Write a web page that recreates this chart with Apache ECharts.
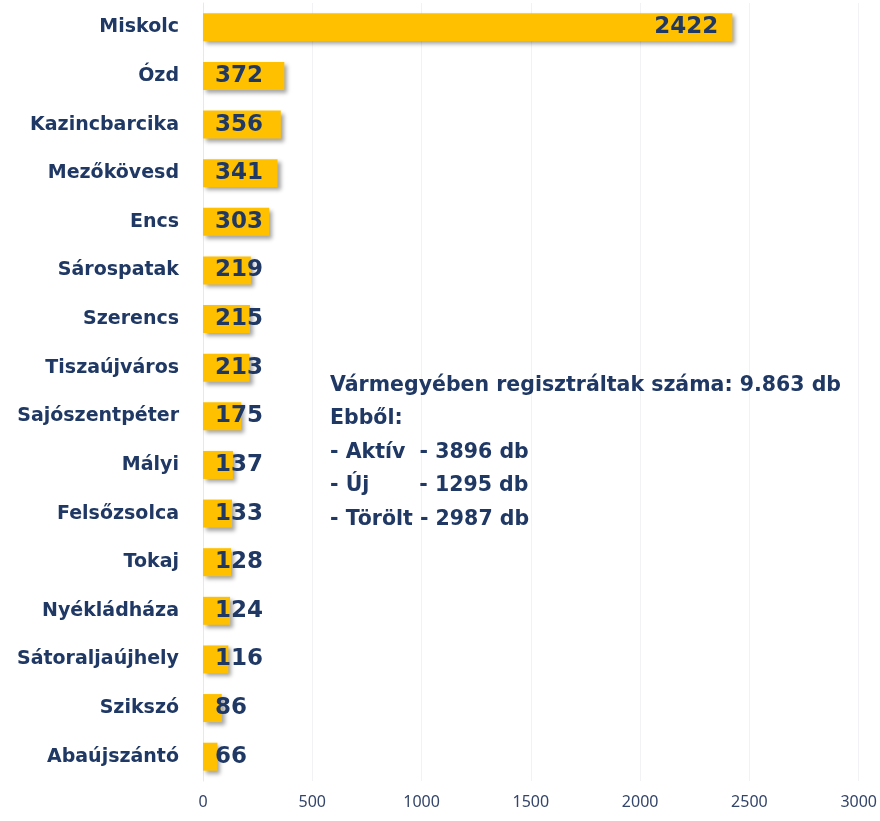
<!DOCTYPE html>
<html>
<head>
<meta charset="utf-8">
<script src="https://cdn.jsdelivr.net/npm/echarts@6/dist/echarts.min.js"></script>
<style>
  html, body { margin: 0; padding: 0; background: #fff; }
  #chart { width: 880px; height: 821px; }
</style>
</head>
<body>
<div id="chart"></div>
<script>
const cities = ["Miskolc", "Ózd", "Kazincbarcika", "Mezőkövesd", "Encs", "Sárospatak", "Szerencs",
  "Tiszaújváros", "Sajószentpéter", "Mályi", "Felsőzsolca", "Tokaj", "Nyékládháza",
  "Sátoraljaújhely", "Szikszó", "Abaújszántó"];
const counts = [2422, 372, 356, 341, 303, 219, 215, 213, 175, 137, 133, 128, 124, 116, 86, 66];
const xTicks = [0, 500, 1000, 1500, 2000, 2500, 3000];
const summaryLines = [
  "Vármegyében regisztráltak száma: 9.863 db",
  "Ebből:",
  "- Aktív  - 3896 db",
  "- Új       - 1295 db",
  "- Törölt - 2987 db"
];

const navy = "#203864";
const font = "'DejaVu Sans', sans-serif";

const chart = echarts.init(document.getElementById("chart"));

const option = {
  animation: false,
  grid: { left: 203, right: 20, top: 3, bottom: 40 },
  xAxis: {
    type: "value",
    min: xTicks[0],
    max: xTicks[xTicks.length - 1],
    interval: 500,
    axisLine: { show: false },
    axisTick: { show: false },
    splitLine: { show: true, lineStyle: { color: "#f2f2f5", width: 1 } },
    axisLabel: {
      color: "#34456a", fontSize: 16, fontFamily: "'Noto Sans', sans-serif", margin: 13,
      formatter: v => String(v)
    }
  },
  yAxis: {
    type: "category",
    inverse: true,
    data: cities,
    axisLine: { show: true, lineStyle: { color: "#e8e8e8" } },
    axisTick: { show: false },
    axisLabel: { color: navy, fontSize: 19, fontWeight: "bold", fontFamily: font, margin: 24 }
  },
  series: [{
    type: "bar",
    barWidth: 28,
    itemStyle: {
      color: "#FFC000",
      shadowColor: "rgba(0,0,0,0.35)",
      shadowBlur: 4,
      shadowOffsetX: 3,
      shadowOffsetY: 3
    },
    label: {
      show: true,
      position: "insideLeft",
      distance: 12,
      color: navy,
      fontSize: 23,
      fontWeight: "bold",
      fontFamily: font
    },
    data: counts.map((v, i) => i === 0
      ? { value: v, label: { position: "insideRight", distance: 14 } }
      : v)
  }],
  graphic: summaryLines.map((t, i) => ({
    type: "text",
    left: 330,
    top: 375 + i * 33.5,
    z: 100,
    style: { text: t, fill: navy, font: "bold 20.5px " + font }
  }))
};

chart.setOption(option);
</script>
</body>
</html>
